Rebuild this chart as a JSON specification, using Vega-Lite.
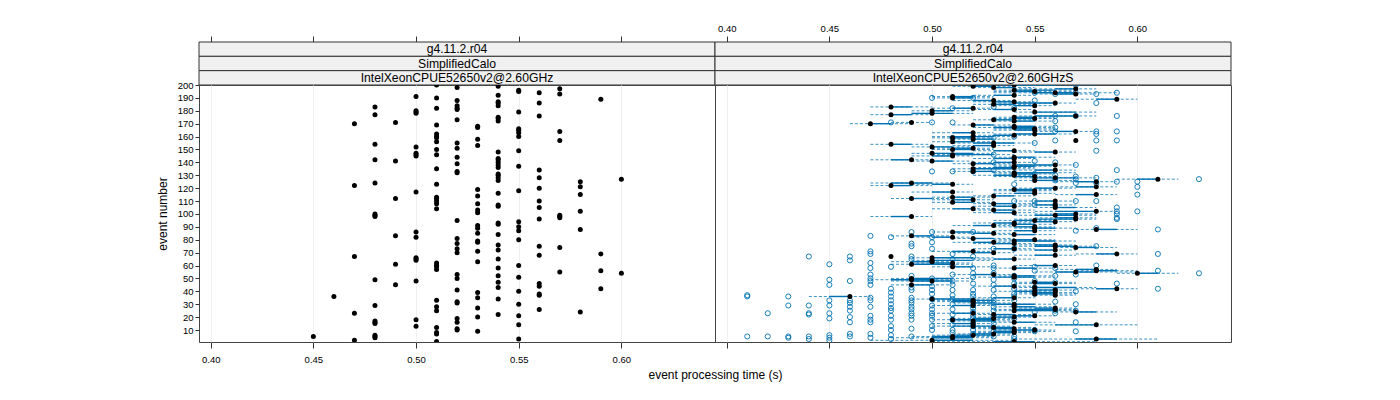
{"$schema":"https://vega.github.io/schema/vega-lite/v6.json","background":"white","padding":{"left":156,"top":23,"right":10,"bottom":5},"bounds":"flush","spacing":0,"columns":2,
"config":{"font":"Liberation Sans","concat":{"spacing":0}},
"datasets":{
"strips":[{"panel":"A","level":"1","label":"g4.11.2.r04"},{"panel":"A","level":"2","label":"SimplifiedCalo"},{"panel":"A","level":"3","label":"IntelXeonCPUE52650v2@2.60GHz"},{"panel":"B","level":"1","label":"g4.11.2.r04"},{"panel":"B","level":"2","label":"SimplifiedCalo"},{"panel":"B","level":"3","label":"IntelXeonCPUE52650v2@2.60GHzS"}],
"left":[{"e":5,"t":0.45},{"e":36,"t":0.46},{"e":170,"t":0.47},{"e":122,"t":0.47},{"e":67,"t":0.47},{"e":23,"t":0.47},{"e":2,"t":0.47},{"e":183,"t":0.48},{"e":177,"t":0.48},{"e":154,"t":0.48},{"e":142,"t":0.48},{"e":124,"t":0.48},{"e":100,"t":0.48},{"e":99,"t":0.48},{"e":98,"t":0.48},{"e":49,"t":0.48},{"e":29,"t":0.48},{"e":17,"t":0.48},{"e":16,"t":0.48},{"e":15,"t":0.48},{"e":6,"t":0.48},{"e":5,"t":0.48},{"e":4,"t":0.48},{"e":171,"t":0.49},{"e":141,"t":0.49},{"e":112,"t":0.49},{"e":83,"t":0.49},{"e":61,"t":0.49},{"e":45,"t":0.49},{"e":191,"t":0.5},{"e":180,"t":0.5},{"e":179,"t":0.5},{"e":178,"t":0.5},{"e":152,"t":0.5},{"e":147,"t":0.5},{"e":146,"t":0.5},{"e":145,"t":0.5},{"e":117,"t":0.5},{"e":86,"t":0.5},{"e":82,"t":0.5},{"e":66,"t":0.5},{"e":65,"t":0.5},{"e":64,"t":0.5},{"e":48,"t":0.5},{"e":18,"t":0.5},{"e":13,"t":0.5},{"e":200,"t":0.51},{"e":190,"t":0.51},{"e":182,"t":0.51},{"e":169,"t":0.51},{"e":162,"t":0.51},{"e":160,"t":0.51},{"e":159,"t":0.51},{"e":156,"t":0.51},{"e":150,"t":0.51},{"e":146,"t":0.51},{"e":135,"t":0.51},{"e":123,"t":0.51},{"e":113,"t":0.51},{"e":112,"t":0.51},{"e":110,"t":0.51},{"e":108,"t":0.51},{"e":104,"t":0.51},{"e":62,"t":0.51},{"e":60,"t":0.51},{"e":59,"t":0.51},{"e":57,"t":0.51},{"e":33,"t":0.51},{"e":28,"t":0.51},{"e":25,"t":0.51},{"e":12,"t":0.51},{"e":8,"t":0.51},{"e":7,"t":0.51},{"e":1,"t":0.51},{"e":198,"t":0.52},{"e":188,"t":0.52},{"e":184,"t":0.52},{"e":182,"t":0.52},{"e":181,"t":0.52},{"e":173,"t":0.52},{"e":155,"t":0.52},{"e":151,"t":0.52},{"e":144,"t":0.52},{"e":139,"t":0.52},{"e":133,"t":0.52},{"e":132,"t":0.52},{"e":95,"t":0.52},{"e":81,"t":0.52},{"e":77,"t":0.52},{"e":73,"t":0.52},{"e":70,"t":0.52},{"e":53,"t":0.52},{"e":50,"t":0.52},{"e":41,"t":0.52},{"e":32,"t":0.52},{"e":31,"t":0.52},{"e":19,"t":0.52},{"e":16,"t":0.52},{"e":11,"t":0.52},{"e":10,"t":0.52},{"e":168,"t":0.53},{"e":167,"t":0.53},{"e":158,"t":0.53},{"e":153,"t":0.53},{"e":119,"t":0.53},{"e":114,"t":0.53},{"e":108,"t":0.53},{"e":103,"t":0.53},{"e":101,"t":0.53},{"e":91,"t":0.53},{"e":89,"t":0.53},{"e":85,"t":0.53},{"e":79,"t":0.53},{"e":78,"t":0.53},{"e":71,"t":0.53},{"e":63,"t":0.53},{"e":39,"t":0.53},{"e":35,"t":0.53},{"e":27,"t":0.53},{"e":20,"t":0.53},{"e":9,"t":0.53},{"e":199,"t":0.54},{"e":192,"t":0.54},{"e":187,"t":0.54},{"e":186,"t":0.54},{"e":184,"t":0.54},{"e":175,"t":0.54},{"e":174,"t":0.54},{"e":172,"t":0.54},{"e":148,"t":0.54},{"e":143,"t":0.54},{"e":142,"t":0.54},{"e":140,"t":0.54},{"e":138,"t":0.54},{"e":136,"t":0.54},{"e":131,"t":0.54},{"e":130,"t":0.54},{"e":128,"t":0.54},{"e":126,"t":0.54},{"e":116,"t":0.54},{"e":107,"t":0.54},{"e":106,"t":0.54},{"e":93,"t":0.54},{"e":92,"t":0.54},{"e":84,"t":0.54},{"e":76,"t":0.54},{"e":72,"t":0.54},{"e":65,"t":0.54},{"e":58,"t":0.54},{"e":52,"t":0.54},{"e":47,"t":0.54},{"e":43,"t":0.54},{"e":34,"t":0.54},{"e":22,"t":0.54},{"e":196,"t":0.55},{"e":195,"t":0.55},{"e":179,"t":0.55},{"e":166,"t":0.55},{"e":165,"t":0.55},{"e":163,"t":0.55},{"e":160,"t":0.55},{"e":149,"t":0.55},{"e":137,"t":0.55},{"e":118,"t":0.55},{"e":94,"t":0.55},{"e":90,"t":0.55},{"e":87,"t":0.55},{"e":80,"t":0.55},{"e":60,"t":0.55},{"e":51,"t":0.55},{"e":40,"t":0.55},{"e":30,"t":0.55},{"e":21,"t":0.55},{"e":14,"t":0.55},{"e":3,"t":0.55},{"e":194,"t":0.56},{"e":186,"t":0.56},{"e":176,"t":0.56},{"e":134,"t":0.56},{"e":128,"t":0.56},{"e":120,"t":0.56},{"e":110,"t":0.56},{"e":105,"t":0.56},{"e":96,"t":0.56},{"e":75,"t":0.56},{"e":68,"t":0.56},{"e":46,"t":0.56},{"e":44,"t":0.56},{"e":38,"t":0.56},{"e":37,"t":0.56},{"e":26,"t":0.56},{"e":197,"t":0.57},{"e":193,"t":0.57},{"e":164,"t":0.57},{"e":157,"t":0.57},{"e":99,"t":0.57},{"e":98,"t":0.57},{"e":97,"t":0.57},{"e":74,"t":0.57},{"e":55,"t":0.57},{"e":125,"t":0.58},{"e":121,"t":0.58},{"e":115,"t":0.58},{"e":102,"t":0.58},{"e":88,"t":0.58},{"e":24,"t":0.58},{"e":189,"t":0.59},{"e":69,"t":0.59},{"e":56,"t":0.59},{"e":42,"t":0.59},{"e":127,"t":0.6},{"e":54,"t":0.6}],
"boxes":[
{"e":200,"m":0.54,"q1":0.54,"q3":0.56,"lo":0.53,"hi":0.58},{"e":199,"m":0.52,"q1":0.52,"q3":0.53,"lo":0.51,"hi":0.54},{"e":198,"m":0.53,"q1":0.53,"q3":0.54,"lo":0.52,"hi":0.55},{"e":197,"m":0.57,"q1":0.56,"q3":0.57,"lo":0.54,"hi":0.58},{"e":196,"m":0.54,"q1":0.54,"q3":0.56,"lo":0.53,"hi":0.57},{"e":195,"m":0.55,"q1":0.54,"q3":0.55,"lo":0.53,"hi":0.57},{"e":194,"m":0.56,"q1":0.55,"q3":0.57,"lo":0.53,"hi":0.59},{"e":193,"m":0.57,"q1":0.56,"q3":0.57,"lo":0.55,"hi":0.58},{"e":192,"m":0.54,"q1":0.53,"q3":0.54,"lo":0.52,"hi":0.55},{"e":191,"m":0.51,"q1":0.51,"q3":0.52,"lo":0.5,"hi":0.53},
{"e":190,"m":0.51,"q1":0.51,"q3":0.52,"lo":0.5,"hi":0.53},{"e":189,"m":0.59,"q1":0.58,"q3":0.59,"lo":0.57,"hi":0.6},{"e":188,"m":0.53,"q1":0.52,"q3":0.53,"lo":0.51,"hi":0.54},{"e":187,"m":0.54,"q1":0.53,"q3":0.54,"lo":0.52,"hi":0.55},{"e":186,"m":0.56,"q1":0.54,"q3":0.56,"lo":0.53,"hi":0.57},{"e":185,"m":0.53,"q1":0.53,"q3":0.54,"lo":0.52,"hi":0.55},{"e":184,"m":0.55,"q1":0.54,"q3":0.55,"lo":0.53,"hi":0.56},{"e":183,"m":0.48,"q1":0.48,"q3":0.49,"lo":0.47,"hi":0.5},{"e":182,"m":0.52,"q1":0.51,"q3":0.52,"lo":0.5,"hi":0.53},{"e":181,"m":0.54,"q1":0.53,"q3":0.54,"lo":0.52,"hi":0.55},
{"e":180,"m":0.5,"q1":0.5,"q3":0.51,"lo":0.49,"hi":0.52},{"e":179,"m":0.55,"q1":0.55,"q3":0.57,"lo":0.54,"hi":0.58},{"e":178,"m":0.5,"q1":0.49,"q3":0.51,"lo":0.49,"hi":0.52},{"e":177,"m":0.48,"q1":0.48,"q3":0.49,"lo":0.47,"hi":0.5},{"e":176,"m":0.57,"q1":0.55,"q3":0.57,"lo":0.54,"hi":0.58},{"e":175,"m":0.54,"q1":0.54,"q3":0.55,"lo":0.53,"hi":0.56},{"e":174,"m":0.55,"q1":0.54,"q3":0.55,"lo":0.53,"hi":0.56},{"e":173,"m":0.53,"q1":0.53,"q3":0.54,"lo":0.52,"hi":0.55},{"e":172,"m":0.54,"q1":0.54,"q3":0.55,"lo":0.53,"hi":0.56},{"e":171,"m":0.49,"q1":0.49,"q3":0.49,"lo":0.48,"hi":0.5},
{"e":170,"m":0.47,"q1":0.47,"q3":0.48,"lo":0.46,"hi":0.49},{"e":169,"m":0.52,"q1":0.52,"q3":0.53,"lo":0.51,"hi":0.54},{"e":168,"m":0.54,"q1":0.54,"q3":0.55,"lo":0.53,"hi":0.56},{"e":167,"m":0.54,"q1":0.53,"q3":0.55,"lo":0.52,"hi":0.56},{"e":166,"m":0.55,"q1":0.54,"q3":0.55,"lo":0.53,"hi":0.56},{"e":165,"m":0.55,"q1":0.54,"q3":0.55,"lo":0.53,"hi":0.56},{"e":164,"m":0.57,"q1":0.56,"q3":0.57,"lo":0.55,"hi":0.58},{"e":163,"m":0.52,"q1":0.51,"q3":0.52,"lo":0.5,"hi":0.53},{"e":162,"m":0.55,"q1":0.54,"q3":0.56,"lo":0.53,"hi":0.57},{"e":161,"m":0.54,"q1":0.53,"q3":0.54,"lo":0.52,"hi":0.55},
{"e":160,"m":0.52,"q1":0.51,"q3":0.53,"lo":0.5,"hi":0.54},{"e":159,"m":0.51,"q1":0.51,"q3":0.52,"lo":0.5,"hi":0.53},{"e":158,"m":0.52,"q1":0.52,"q3":0.53,"lo":0.51,"hi":0.54},{"e":157,"m":0.57,"q1":0.57,"q3":0.57,"lo":0.57,"hi":0.57},{"e":156,"m":0.51,"q1":0.51,"q3":0.52,"lo":0.5,"hi":0.53},{"e":155,"m":0.53,"q1":0.52,"q3":0.54,"lo":0.51,"hi":0.55},{"e":154,"m":0.48,"q1":0.48,"q3":0.49,"lo":0.47,"hi":0.5},{"e":153,"m":0.53,"q1":0.52,"q3":0.53,"lo":0.51,"hi":0.54},{"e":152,"m":0.5,"q1":0.5,"q3":0.51,"lo":0.49,"hi":0.52},{"e":151,"m":0.52,"q1":0.51,"q3":0.52,"lo":0.5,"hi":0.53},
{"e":150,"m":0.51,"q1":0.51,"q3":0.52,"lo":0.5,"hi":0.53},{"e":149,"m":0.54,"q1":0.53,"q3":0.54,"lo":0.52,"hi":0.55},{"e":148,"m":0.56,"q1":0.55,"q3":0.56,"lo":0.54,"hi":0.57},{"e":147,"m":0.5,"q1":0.5,"q3":0.52,"lo":0.49,"hi":0.53},{"e":146,"m":0.51,"q1":0.51,"q3":0.53,"lo":0.5,"hi":0.54},{"e":145,"m":0.51,"q1":0.5,"q3":0.51,"lo":0.49,"hi":0.52},{"e":144,"m":0.54,"q1":0.54,"q3":0.55,"lo":0.53,"hi":0.56},{"e":143,"m":0.54,"q1":0.53,"q3":0.54,"lo":0.52,"hi":0.55},{"e":142,"m":0.49,"q1":0.48,"q3":0.49,"lo":0.47,"hi":0.5},{"e":141,"m":0.5,"q1":0.5,"q3":0.51,"lo":0.49,"hi":0.52},
{"e":140,"m":0.54,"q1":0.53,"q3":0.54,"lo":0.52,"hi":0.55},{"e":139,"m":0.52,"q1":0.52,"q3":0.53,"lo":0.51,"hi":0.54},{"e":138,"m":0.56,"q1":0.54,"q3":0.56,"lo":0.53,"hi":0.57},{"e":137,"m":0.54,"q1":0.54,"q3":0.55,"lo":0.53,"hi":0.56},{"e":136,"m":0.54,"q1":0.53,"q3":0.54,"lo":0.52,"hi":0.55},{"e":135,"m":0.52,"q1":0.52,"q3":0.54,"lo":0.51,"hi":0.55},{"e":134,"m":0.56,"q1":0.55,"q3":0.56,"lo":0.54,"hi":0.57},{"e":133,"m":0.52,"q1":0.52,"q3":0.53,"lo":0.51,"hi":0.54},{"e":132,"m":0.54,"q1":0.54,"q3":0.56,"lo":0.53,"hi":0.57},{"e":131,"m":0.54,"q1":0.54,"q3":0.55,"lo":0.53,"hi":0.56},
{"e":130,"m":0.54,"q1":0.53,"q3":0.54,"lo":0.52,"hi":0.55},{"e":129,"m":0.55,"q1":0.54,"q3":0.55,"lo":0.53,"hi":0.56},{"e":128,"m":0.56,"q1":0.55,"q3":0.57,"lo":0.54,"hi":0.58},{"e":127,"m":0.61,"q1":0.6,"q3":0.61,"lo":0.59,"hi":0.62},{"e":126,"m":0.55,"q1":0.55,"q3":0.56,"lo":0.54,"hi":0.57},{"e":125,"m":0.58,"q1":0.57,"q3":0.58,"lo":0.56,"hi":0.59},{"e":124,"m":0.49,"q1":0.48,"q3":0.5,"lo":0.47,"hi":0.51},{"e":123,"m":0.51,"q1":0.5,"q3":0.51,"lo":0.49,"hi":0.52},{"e":122,"m":0.48,"q1":0.48,"q3":0.49,"lo":0.47,"hi":0.5},{"e":121,"m":0.58,"q1":0.57,"q3":0.58,"lo":0.56,"hi":0.59},
{"e":120,"m":0.56,"q1":0.55,"q3":0.56,"lo":0.54,"hi":0.57},{"e":119,"m":0.54,"q1":0.54,"q3":0.55,"lo":0.53,"hi":0.56},{"e":118,"m":0.55,"q1":0.54,"q3":0.55,"lo":0.53,"hi":0.56},{"e":117,"m":0.51,"q1":0.5,"q3":0.51,"lo":0.49,"hi":0.52},{"e":116,"m":0.55,"q1":0.54,"q3":0.55,"lo":0.53,"hi":0.56},{"e":115,"m":0.58,"q1":0.57,"q3":0.58,"lo":0.56,"hi":0.59},{"e":114,"m":0.53,"q1":0.53,"q3":0.54,"lo":0.52,"hi":0.55},{"e":113,"m":0.51,"q1":0.51,"q3":0.52,"lo":0.5,"hi":0.53},{"e":112,"m":0.49,"q1":0.49,"q3":0.5,"lo":0.48,"hi":0.51},{"e":111,"m":0.52,"q1":0.51,"q3":0.52,"lo":0.5,"hi":0.53},
{"e":110,"m":0.56,"q1":0.55,"q3":0.56,"lo":0.54,"hi":0.57},{"e":109,"m":0.51,"q1":0.51,"q3":0.52,"lo":0.5,"hi":0.53},{"e":108,"m":0.53,"q1":0.53,"q3":0.54,"lo":0.52,"hi":0.55},{"e":107,"m":0.56,"q1":0.55,"q3":0.56,"lo":0.54,"hi":0.57},{"e":106,"m":0.54,"q1":0.53,"q3":0.54,"lo":0.52,"hi":0.55},{"e":105,"m":0.56,"q1":0.56,"q3":0.57,"lo":0.55,"hi":0.58},{"e":104,"m":0.52,"q1":0.51,"q3":0.52,"lo":0.5,"hi":0.53},{"e":103,"m":0.53,"q1":0.53,"q3":0.54,"lo":0.52,"hi":0.55},{"e":102,"m":0.58,"q1":0.56,"q3":0.58,"lo":0.55,"hi":0.59},{"e":101,"m":0.54,"q1":0.53,"q3":0.54,"lo":0.52,"hi":0.55},
{"e":100,"m":0.57,"q1":0.56,"q3":0.57,"lo":0.55,"hi":0.58},{"e":99,"m":0.56,"q1":0.55,"q3":0.57,"lo":0.54,"hi":0.58},{"e":98,"m":0.49,"q1":0.48,"q3":0.49,"lo":0.47,"hi":0.5},{"e":97,"m":0.57,"q1":0.56,"q3":0.57,"lo":0.55,"hi":0.58},{"e":96,"m":0.57,"q1":0.55,"q3":0.57,"lo":0.54,"hi":0.58},{"e":95,"m":0.55,"q1":0.54,"q3":0.55,"lo":0.53,"hi":0.56},{"e":94,"m":0.56,"q1":0.55,"q3":0.56,"lo":0.54,"hi":0.57},{"e":93,"m":0.54,"q1":0.53,"q3":0.54,"lo":0.52,"hi":0.55},{"e":92,"m":0.54,"q1":0.54,"q3":0.55,"lo":0.53,"hi":0.56},{"e":91,"m":0.53,"q1":0.52,"q3":0.53,"lo":0.51,"hi":0.54},
{"e":90,"m":0.55,"q1":0.54,"q3":0.55,"lo":0.53,"hi":0.56},{"e":89,"m":0.55,"q1":0.55,"q3":0.56,"lo":0.54,"hi":0.57},{"e":88,"m":0.58,"q1":0.58,"q3":0.59,"lo":0.57,"hi":0.6},{"e":87,"m":0.55,"q1":0.54,"q3":0.55,"lo":0.53,"hi":0.56},{"e":86,"m":0.51,"q1":0.51,"q3":0.52,"lo":0.5,"hi":0.53},{"e":85,"m":0.53,"q1":0.52,"q3":0.53,"lo":0.51,"hi":0.54},{"e":84,"m":0.54,"q1":0.54,"q3":0.55,"lo":0.53,"hi":0.56},{"e":83,"m":0.49,"q1":0.49,"q3":0.5,"lo":0.48,"hi":0.51},{"e":82,"m":0.51,"q1":0.5,"q3":0.51,"lo":0.49,"hi":0.52},{"e":81,"m":0.52,"q1":0.52,"q3":0.53,"lo":0.51,"hi":0.54},
{"e":80,"m":0.55,"q1":0.54,"q3":0.55,"lo":0.53,"hi":0.56},{"e":79,"m":0.54,"q1":0.54,"q3":0.56,"lo":0.53,"hi":0.57},{"e":78,"m":0.53,"q1":0.52,"q3":0.53,"lo":0.51,"hi":0.54},{"e":77,"m":0.54,"q1":0.53,"q3":0.54,"lo":0.52,"hi":0.55},{"e":76,"m":0.56,"q1":0.55,"q3":0.56,"lo":0.54,"hi":0.57},{"e":75,"m":0.56,"q1":0.55,"q3":0.57,"lo":0.54,"hi":0.58},{"e":74,"m":0.57,"q1":0.57,"q3":0.58,"lo":0.56,"hi":0.59},{"e":73,"m":0.54,"q1":0.53,"q3":0.54,"lo":0.52,"hi":0.55},{"e":72,"m":0.56,"q1":0.55,"q3":0.56,"lo":0.54,"hi":0.57},{"e":71,"m":0.52,"q1":0.51,"q3":0.52,"lo":0.5,"hi":0.53},
{"e":70,"m":0.53,"q1":0.52,"q3":0.53,"lo":0.51,"hi":0.54},{"e":69,"m":0.59,"q1":0.58,"q3":0.59,"lo":0.57,"hi":0.6},{"e":68,"m":0.56,"q1":0.55,"q3":0.56,"lo":0.54,"hi":0.57},{"e":67,"m":0.48,"q1":0.48,"q3":0.48,"lo":0.48,"hi":0.48},{"e":66,"m":0.5,"q1":0.5,"q3":0.52,"lo":0.49,"hi":0.53},{"e":65,"m":0.54,"q1":0.53,"q3":0.54,"lo":0.52,"hi":0.55},{"e":64,"m":0.5,"q1":0.5,"q3":0.52,"lo":0.49,"hi":0.53},{"e":63,"m":0.5,"q1":0.49,"q3":0.5,"lo":0.48,"hi":0.51},{"e":62,"m":0.51,"q1":0.5,"q3":0.51,"lo":0.49,"hi":0.52},{"e":61,"m":0.49,"q1":0.49,"q3":0.51,"lo":0.48,"hi":0.52},
{"e":60,"m":0.56,"q1":0.55,"q3":0.56,"lo":0.54,"hi":0.57},{"e":59,"m":0.51,"q1":0.51,"q3":0.52,"lo":0.5,"hi":0.53},{"e":58,"m":0.54,"q1":0.54,"q3":0.55,"lo":0.53,"hi":0.56},{"e":57,"m":0.58,"q1":0.57,"q3":0.58,"lo":0.56,"hi":0.59},{"e":56,"m":0.58,"q1":0.58,"q3":0.59,"lo":0.57,"hi":0.6},{"e":55,"m":0.57,"q1":0.56,"q3":0.58,"lo":0.55,"hi":0.6},{"e":54,"m":0.6,"q1":0.6,"q3":0.61,"lo":0.59,"hi":0.62},{"e":53,"m":0.53,"q1":0.52,"q3":0.53,"lo":0.51,"hi":0.54},{"e":52,"m":0.54,"q1":0.54,"q3":0.55,"lo":0.53,"hi":0.56},{"e":51,"m":0.54,"q1":0.53,"q3":0.55,"lo":0.52,"hi":0.56},
{"e":50,"m":0.49,"q1":0.49,"q3":0.51,"lo":0.48,"hi":0.52},{"e":49,"m":0.49,"q1":0.48,"q3":0.5,"lo":0.47,"hi":0.51},{"e":48,"m":0.5,"q1":0.49,"q3":0.51,"lo":0.48,"hi":0.52},{"e":47,"m":0.55,"q1":0.55,"q3":0.56,"lo":0.54,"hi":0.57},{"e":46,"m":0.56,"q1":0.55,"q3":0.56,"lo":0.54,"hi":0.57},{"e":45,"m":0.49,"q1":0.49,"q3":0.5,"lo":0.48,"hi":0.51},{"e":44,"m":0.54,"q1":0.53,"q3":0.54,"lo":0.52,"hi":0.55},{"e":43,"m":0.55,"q1":0.55,"q3":0.57,"lo":0.54,"hi":0.58},{"e":42,"m":0.59,"q1":0.58,"q3":0.59,"lo":0.57,"hi":0.6},{"e":41,"m":0.56,"q1":0.55,"q3":0.56,"lo":0.54,"hi":0.57},
{"e":40,"m":0.55,"q1":0.54,"q3":0.55,"lo":0.53,"hi":0.56},{"e":39,"m":0.56,"q1":0.55,"q3":0.56,"lo":0.54,"hi":0.57},{"e":38,"m":0.55,"q1":0.55,"q3":0.56,"lo":0.54,"hi":0.57},{"e":37,"m":0.56,"q1":0.56,"q3":0.56,"lo":0.55,"hi":0.57},{"e":36,"m":0.46,"q1":0.45,"q3":0.46,"lo":0.44,"hi":0.47},{"e":35,"m":0.54,"q1":0.53,"q3":0.54,"lo":0.52,"hi":0.55},{"e":34,"m":0.5,"q1":0.5,"q3":0.52,"lo":0.49,"hi":0.53},{"e":33,"m":0.52,"q1":0.51,"q3":0.53,"lo":0.5,"hi":0.54},{"e":32,"m":0.52,"q1":0.51,"q3":0.52,"lo":0.5,"hi":0.53},{"e":31,"m":0.52,"q1":0.52,"q3":0.53,"lo":0.51,"hi":0.54},
{"e":30,"m":0.54,"q1":0.53,"q3":0.55,"lo":0.52,"hi":0.56},{"e":29,"m":0.52,"q1":0.51,"q3":0.52,"lo":0.5,"hi":0.53},{"e":28,"m":0.54,"q1":0.54,"q3":0.55,"lo":0.53,"hi":0.56},{"e":27,"m":0.56,"q1":0.55,"q3":0.56,"lo":0.54,"hi":0.57},{"e":26,"m":0.56,"q1":0.54,"q3":0.56,"lo":0.53,"hi":0.57},{"e":25,"m":0.54,"q1":0.54,"q3":0.56,"lo":0.53,"hi":0.57},{"e":24,"m":0.57,"q1":0.57,"q3":0.58,"lo":0.56,"hi":0.59},{"e":23,"m":0.52,"q1":0.51,"q3":0.52,"lo":0.5,"hi":0.53},{"e":22,"m":0.53,"q1":0.53,"q3":0.54,"lo":0.52,"hi":0.55},{"e":21,"m":0.55,"q1":0.54,"q3":0.55,"lo":0.53,"hi":0.56},
{"e":20,"m":0.54,"q1":0.53,"q3":0.54,"lo":0.52,"hi":0.55},{"e":19,"m":0.53,"q1":0.52,"q3":0.53,"lo":0.51,"hi":0.54},{"e":18,"m":0.51,"q1":0.51,"q3":0.53,"lo":0.5,"hi":0.54},{"e":17,"m":0.52,"q1":0.52,"q3":0.53,"lo":0.51,"hi":0.54},{"e":16,"m":0.54,"q1":0.54,"q3":0.55,"lo":0.53,"hi":0.56},{"e":15,"m":0.52,"q1":0.51,"q3":0.52,"lo":0.5,"hi":0.53},{"e":14,"m":0.58,"q1":0.56,"q3":0.58,"lo":0.55,"hi":0.6},{"e":13,"m":0.52,"q1":0.51,"q3":0.53,"lo":0.5,"hi":0.54},{"e":12,"m":0.53,"q1":0.53,"q3":0.54,"lo":0.52,"hi":0.55},{"e":11,"m":0.54,"q1":0.53,"q3":0.54,"lo":0.52,"hi":0.55},
{"e":10,"m":0.55,"q1":0.54,"q3":0.55,"lo":0.53,"hi":0.56},{"e":9,"m":0.54,"q1":0.53,"q3":0.54,"lo":0.52,"hi":0.56},{"e":8,"m":0.54,"q1":0.53,"q3":0.54,"lo":0.52,"hi":0.55},{"e":7,"m":0.53,"q1":0.52,"q3":0.53,"lo":0.51,"hi":0.54},{"e":6,"m":0.52,"q1":0.51,"q3":0.53,"lo":0.5,"hi":0.54},{"e":5,"m":0.51,"q1":0.5,"q3":0.52,"lo":0.49,"hi":0.53},{"e":4,"m":0.51,"q1":0.5,"q3":0.52,"lo":0.48,"hi":0.53},{"e":3,"m":0.58,"q1":0.57,"q3":0.59,"lo":0.54,"hi":0.61},{"e":2,"m":0.5,"q1":0.5,"q3":0.52,"lo":0.47,"hi":0.54},{"e":1,"m":0.54,"q1":0.53,"q3":0.55,"lo":0.5,"hi":0.58}],
"outliers":[{"t":0.41,"e":37},{"t":0.41,"e":36},{"t":0.41,"e":5},{"t":0.42,"e":23},{"t":0.42,"e":5},{"t":0.43,"e":36},{"t":0.43,"e":29},{"t":0.43,"e":5},{"t":0.43,"e":4},{"t":0.44,"e":67},{"t":0.44,"e":29},{"t":0.44,"e":23},{"t":0.44,"e":22},{"t":0.44,"e":5},{"t":0.44,"e":3},
{"t":0.45,"e":61},{"t":0.45,"e":49},{"t":0.45,"e":45},{"t":0.45,"e":33},{"t":0.45,"e":29},{"t":0.45,"e":23},{"t":0.45,"e":19},{"t":0.45,"e":6},{"t":0.45,"e":4},{"t":0.45,"e":2},
{"t":0.46,"e":67},{"t":0.46,"e":64},{"t":0.46,"e":48},{"t":0.46,"e":33},{"t":0.46,"e":31},{"t":0.46,"e":28},{"t":0.46,"e":25},{"t":0.46,"e":20},{"t":0.46,"e":16},{"t":0.46,"e":7},{"t":0.46,"e":5},
{"t":0.47,"e":83},{"t":0.47,"e":71},{"t":0.47,"e":69},{"t":0.47,"e":62},{"t":0.47,"e":58},{"t":0.47,"e":53},{"t":0.47,"e":50},{"t":0.47,"e":48},{"t":0.47,"e":45},{"t":0.47,"e":35},{"t":0.47,"e":33},{"t":0.47,"e":28},{"t":0.47,"e":21},{"t":0.47,"e":18},{"t":0.47,"e":16},{"t":0.47,"e":7},{"t":0.47,"e":4},
{"t":0.48,"e":171},{"t":0.48,"e":82},{"t":0.48,"e":59},{"t":0.48,"e":42},{"t":0.48,"e":39},{"t":0.48,"e":36},{"t":0.48,"e":33},{"t":0.48,"e":30},{"t":0.48,"e":27},{"t":0.48,"e":25},{"t":0.48,"e":21},{"t":0.48,"e":18},{"t":0.48,"e":13},{"t":0.48,"e":10},{"t":0.48,"e":6},{"t":0.48,"e":3},
{"t":0.49,"e":86},{"t":0.49,"e":77},{"t":0.49,"e":75},{"t":0.49,"e":67},{"t":0.49,"e":65},{"t":0.49,"e":52},{"t":0.49,"e":43},{"t":0.49,"e":41},{"t":0.49,"e":35},{"t":0.49,"e":33},{"t":0.49,"e":31},{"t":0.49,"e":28},{"t":0.49,"e":26},{"t":0.49,"e":23},{"t":0.49,"e":21},{"t":0.49,"e":18},{"t":0.49,"e":11},{"t":0.49,"e":5},
{"t":0.5,"e":190},{"t":0.5,"e":171},{"t":0.5,"e":133},{"t":0.5,"e":86},{"t":0.5,"e":82},{"t":0.5,"e":78},{"t":0.5,"e":73},{"t":0.5,"e":63},{"t":0.5,"e":50},{"t":0.5,"e":44},{"t":0.5,"e":41},{"t":0.5,"e":38},{"t":0.5,"e":34},{"t":0.5,"e":29},{"t":0.5,"e":26},{"t":0.5,"e":23},{"t":0.5,"e":21},{"t":0.5,"e":18},{"t":0.5,"e":13},{"t":0.5,"e":10},
{"t":0.51,"e":182},{"t":0.51,"e":171},{"t":0.51,"e":159},{"t":0.51,"e":133},{"t":0.51,"e":69},{"t":0.51,"e":65},{"t":0.51,"e":60},{"t":0.51,"e":53},{"t":0.51,"e":48},{"t":0.51,"e":45},{"t":0.51,"e":41},{"t":0.51,"e":37},{"t":0.51,"e":34},{"t":0.51,"e":30},{"t":0.51,"e":26},{"t":0.51,"e":22},{"t":0.51,"e":18},{"t":0.51,"e":14},{"t":0.51,"e":10},{"t":0.51,"e":8},{"t":0.51,"e":4},
{"t":0.52,"e":190},{"t":0.52,"e":133},{"t":0.52,"e":86},{"t":0.52,"e":67},{"t":0.52,"e":58},{"t":0.52,"e":54},{"t":0.52,"e":51},{"t":0.52,"e":46},{"t":0.52,"e":41},{"t":0.52,"e":38},{"t":0.52,"e":36},{"t":0.52,"e":33},{"t":0.52,"e":29},{"t":0.52,"e":27},{"t":0.52,"e":24},{"t":0.52,"e":21},{"t":0.52,"e":19},{"t":0.52,"e":15},{"t":0.52,"e":13},{"t":0.52,"e":10},{"t":0.52,"e":7},
{"t":0.53,"e":183},{"t":0.53,"e":159},{"t":0.53,"e":146},{"t":0.53,"e":140},{"t":0.53,"e":134},{"t":0.53,"e":73},{"t":0.53,"e":60},{"t":0.53,"e":58},{"t":0.53,"e":54},{"t":0.53,"e":49},{"t":0.53,"e":45},{"t":0.53,"e":41},{"t":0.53,"e":36},{"t":0.53,"e":33},{"t":0.53,"e":31},{"t":0.53,"e":28},{"t":0.53,"e":25},{"t":0.53,"e":21},{"t":0.53,"e":18},{"t":0.53,"e":15},{"t":0.53,"e":12},{"t":0.53,"e":9},{"t":0.53,"e":5},
{"t":0.54,"e":182},{"t":0.54,"e":160},{"t":0.54,"e":123},{"t":0.54,"e":110},{"t":0.54,"e":73},{"t":0.54,"e":52},{"t":0.54,"e":50},{"t":0.54,"e":46},{"t":0.54,"e":42},{"t":0.54,"e":38},{"t":0.54,"e":36},{"t":0.54,"e":33},{"t":0.54,"e":29},{"t":0.54,"e":19},{"t":0.54,"e":5},{"t":0.54,"e":3},
{"t":0.55,"e":194},{"t":0.55,"e":188},{"t":0.55,"e":155},{"t":0.55,"e":141},{"t":0.55,"e":131},{"t":0.55,"e":128},{"t":0.55,"e":110},{"t":0.55,"e":107},{"t":0.55,"e":59},{"t":0.55,"e":56},{"t":0.55,"e":48},{"t":0.55,"e":43},{"t":0.55,"e":40},{"t":0.55,"e":38},{"t":0.55,"e":24},{"t":0.55,"e":10},{"t":0.55,"e":9},
{"t":0.56,"e":193},{"t":0.56,"e":176},{"t":0.56,"e":172},{"t":0.56,"e":167},{"t":0.56,"e":164},{"t":0.56,"e":157},{"t":0.56,"e":140},{"t":0.56,"e":130},{"t":0.56,"e":127},{"t":0.56,"e":126},{"t":0.56,"e":107},{"t":0.56,"e":58},{"t":0.56,"e":52},{"t":0.56,"e":47},{"t":0.56,"e":41},{"t":0.56,"e":32},{"t":0.56,"e":25},{"t":0.56,"e":23},
{"t":0.57,"e":200},{"t":0.57,"e":194},{"t":0.57,"e":176},{"t":0.57,"e":138},{"t":0.57,"e":129},{"t":0.57,"e":127},{"t":0.57,"e":124},{"t":0.57,"e":110},{"t":0.57,"e":87},{"t":0.57,"e":53},{"t":0.57,"e":40},{"t":0.57,"e":30},{"t":0.57,"e":25},{"t":0.57,"e":16},{"t":0.57,"e":9},
{"t":0.58,"e":193},{"t":0.58,"e":186},{"t":0.58,"e":164},{"t":0.58,"e":162},{"t":0.58,"e":157},{"t":0.58,"e":149},{"t":0.58,"e":128},{"t":0.58,"e":124},{"t":0.58,"e":110},{"t":0.58,"e":89},{"t":0.58,"e":75},{"t":0.58,"e":60},
{"t":0.59,"e":194},{"t":0.59,"e":176},{"t":0.59,"e":164},{"t":0.59,"e":157},{"t":0.59,"e":134},{"t":0.59,"e":125},{"t":0.59,"e":105},{"t":0.59,"e":102},{"t":0.59,"e":100},{"t":0.59,"e":97},{"t":0.59,"e":96},{"t":0.59,"e":46},
{"t":0.6,"e":125},{"t":0.6,"e":121},{"t":0.6,"e":115},{"t":0.6,"e":102},{"t":0.61,"e":88},{"t":0.61,"e":69},{"t":0.61,"e":56},{"t":0.61,"e":42},{"t":0.63,"e":127},{"t":0.63,"e":54}]
},
"concat":[
{"width":516,"height":43,"view":{"stroke":null},"data":{"name":"strips"},"transform":[{"filter":"datum.panel==='A'"}],
 "encoding":{"y":{"field":"level","type":"nominal","axis":null,"scale":{"paddingInner":0,"paddingOuter":0}}},
 "layer":[
  {"mark":{"type":"rect","fill":"#f0f0f0","stroke":"#333333","strokeWidth":1},"encoding":{"x":{"datum":0.3943,"type":"quantitative","scale":{"domain":[0.3943,0.6456],"nice":false,"zero":false},"axis":{"orient":"top","values":[0.4,0.45,0.5,0.55,0.6],"labels":false,"domain":false,"grid":false,"ticks":true,"tickSize":6,"tickColor":"#333333","title":null}},"x2":{"datum":0.6456}}},
  {"mark":{"type":"text","fontSize":12.2,"color":"black","font":"Liberation Sans"},"encoding":{"text":{"field":"label"},"x":{"value":258}}}
 ]},
{"width":516,"height":43,"view":{"stroke":null},"data":{"name":"strips"},"transform":[{"filter":"datum.panel==='B'"}],
 "encoding":{"y":{"field":"level","type":"nominal","axis":null,"scale":{"paddingInner":0,"paddingOuter":0}}},
 "layer":[
  {"mark":{"type":"rect","fill":"#f0f0f0","stroke":"#333333","strokeWidth":1},"encoding":{"x":{"datum":0.3943,"type":"quantitative","scale":{"domain":[0.3943,0.6456],"nice":false,"zero":false},"axis":{"orient":"top","values":[0.4,0.45,0.5,0.55,0.6],"format":".2f","labelFontSize":9.5,"labelPadding":3,"domain":false,"grid":false,"ticks":true,"tickSize":6,"tickColor":"#333333","labelColor":"black","title":null}},"x2":{"datum":0.6456}}},
  {"mark":{"type":"text","fontSize":12.2,"color":"black","font":"Liberation Sans"},"encoding":{"text":{"field":"label"},"x":{"value":258}}}
 ]},
{"width":516,"height":257,"view":{"stroke":"#444444","strokeWidth":1},"data":{"name":"left"},
 "mark":{"type":"point","filled":true,"color":"black","size":25,"opacity":1,"clip":true},
 "encoding":{
  "x":{"field":"t","type":"quantitative","scale":{"domain":[0.3943,0.6456],"nice":false,"zero":false},"axis":{"orient":"bottom","values":[0.4,0.45,0.5,0.55,0.6],"format":".2f","labelFontSize":9.5,"labelColor":"black","labelPadding":6,"grid":true,"gridColor":"#efefef","domain":false,"tickSize":6,"tickColor":"#333333","title":"event processing time (s)","titleFontSize":12,"titleFontWeight":"normal","titleColor":"black","titleX":516,"titleY":39,"titleAlign":"center","titleBaseline":"bottom"}},
  "y":{"field":"e","type":"quantitative","scale":{"domain":[0.7,200],"nice":false,"zero":false},"axis":{"orient":"left","values":[10,20,30,40,50,60,70,80,90,100,110,120,130,140,150,160,170,180,190,200],"labelFontSize":9.5,"labelColor":"black","labelPadding":2,"grid":false,"domain":false,"tickSize":4,"tickColor":"#333333","title":"event number","titleFontSize":12,"titleFontWeight":"normal","titleColor":"black","titlePadding":7.5}}
 }},
{"width":516,"height":257,"view":{"stroke":"#444444","strokeWidth":1},
 "layer":[
  {"data":{"name":"boxes"},"mark":{"type":"rule","color":"#0072b2","strokeWidth":0.9,"strokeDash":[3,2],"opacity":0.85,"clip":true},
   "encoding":{"x":{"field":"lo","type":"quantitative","scale":{"domain":[0.3943,0.6456],"nice":false,"zero":false},"axis":{"orient":"bottom","values":[0.4,0.45,0.5,0.55,0.6],"labels":false,"grid":true,"gridColor":"#efefef","domain":false,"tickSize":6,"tickColor":"#333333","title":null}},"x2":{"field":"hi"},"y":{"field":"e","type":"quantitative","scale":{"domain":[0.7,200],"nice":false,"zero":false},"axis":null}}},
  {"data":{"name":"boxes"},"mark":{"type":"rule","color":"#0072b2","strokeWidth":1.4,"clip":true},
   "encoding":{"x":{"field":"q1","type":"quantitative"},"x2":{"field":"q3"},"y":{"field":"e","type":"quantitative"}}},
  {"data":{"name":"outliers"},"mark":{"type":"point","filled":false,"color":"#0072b2","size":26,"strokeWidth":1,"opacity":0.9,"clip":true},
   "encoding":{"x":{"field":"t","type":"quantitative"},"y":{"field":"e","type":"quantitative"}}},
  {"data":{"name":"boxes"},"mark":{"type":"point","filled":true,"color":"black","size":25,"opacity":1,"clip":true},
   "encoding":{"x":{"field":"m","type":"quantitative"},"y":{"field":"e","type":"quantitative"}}}
 ]}
]}
